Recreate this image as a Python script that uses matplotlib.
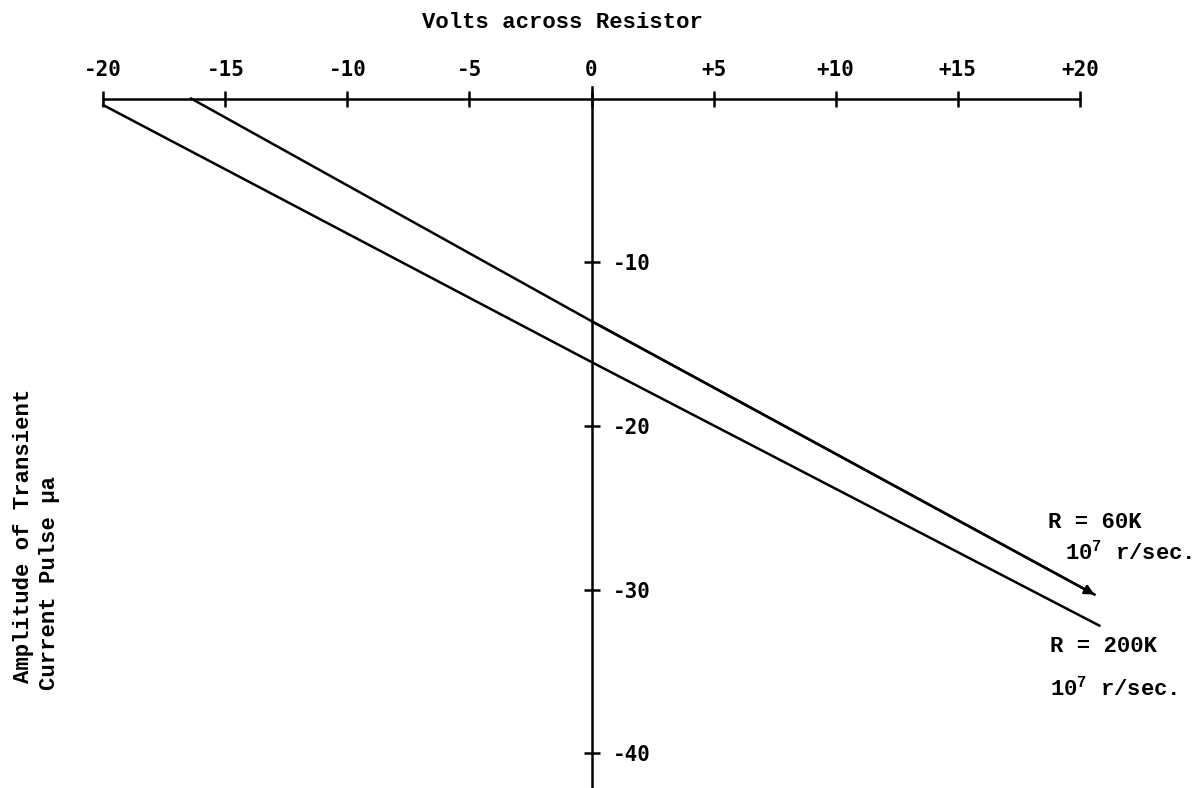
import matplotlib.pyplot as plt

W, H = 1198, 788

x_ticks = [-20, -15, -10, -5, 0, 5, 10, 15, 20]
x_tick_labels = ["-20", "-15", "-10", "-5", "0", "+5", "+10", "+15", "+20"]
y_ticks = [-10, -20, -30, -40]
y_tick_labels = ["-10", "-20", "-30", "-40"]

# R = 200K curve
volts_200k = [-20.0, 0.0, 20.8]
amps_200k = [-0.4, -16.1, -32.2]
# R = 60K curve
volts_60k = [-16.4, 0.0, 20.6]
amps_60k = [0.0, -13.6, -30.3]

plt.rcParams["mathtext.fontset"] = "custom"
plt.rcParams["mathtext.rm"] = "Liberation Mono:bold"


def px(x, y):
    return x / W, 1 - y / H


fig = plt.figure(figsize=(W / 100, H / 100), dpi=100)
fig.set_facecolor("w")
ax = fig.add_axes([0, 0, 1, 1])
ax.set_xlim(-24.23, 24.84)
ax.set_ylim(-42.12, 6.02)

for side in ["left", "bottom"]:
    ax.spines[side].set_visible(False)
ax.spines["top"].set_position(("data", 0))
ax.spines["right"].set_position(("data", 0))
ax.spines["top"].set_bounds(-20, 20)
ax.spines["right"].set_bounds(-42.2, 0.7)
for side in ["top", "right"]:
    ax.spines[side].set_linewidth(1.8)

ax.xaxis.set_ticks_position("top")
ax.yaxis.set_ticks_position("right")
ax.tick_params(direction="inout", length=12, width=1.8, color="black")
ax.tick_params(axis="x", pad=7)
ax.tick_params(axis="y", pad=9)
ax.set_xticks(x_ticks)
ax.set_xticklabels(x_tick_labels, fontfamily="DejaVu Sans Mono",
                   fontsize=15, fontweight="bold")
ax.set_yticks(y_ticks)
ax.set_yticklabels(y_tick_labels, fontfamily="DejaVu Sans Mono",
                   fontsize=15, fontweight="bold")

ax.plot(volts_200k, amps_200k, color="black", lw=1.8)
ax.plot(volts_60k, amps_60k, color="black", lw=1.8)
ax.annotate(
    "",
    xy=(volts_60k[-1], amps_60k[-1]),
    xytext=(volts_60k[-2], amps_60k[-2]),
    arrowprops=dict(arrowstyle="-|>", color="black", lw=1.8,
                    mutation_scale=14, shrinkA=0, shrinkB=0),
)

mono = dict(family="Liberation Mono", weight="bold", size=16, color="black")

fig.text(*px(562, 22), "Volts across Resistor", ha="center", va="center", **mono)
fig.text(*px(24, 683), "Amplitude of Transient", rotation=90,
         ha="center", va="bottom", **mono)
fig.text(*px(50, 690), "Current Pulse \u03bca", rotation=90,
         ha="center", va="bottom", **mono)

fig.text(*px(1048, 523), "R = 60K", ha="left", va="center", **mono)
fig.text(*px(1065, 553), "10$^{\\mathrm{7}}$ r/sec.", ha="left", va="center", **mono)
fig.text(*px(1050, 647), "R = 200K", ha="left", va="center", **mono)
fig.text(*px(1050, 689), "10$^{\\mathrm{7}}$ r/sec.", ha="left", va="center", **mono)

fig.savefig("out.png", dpi=100)
